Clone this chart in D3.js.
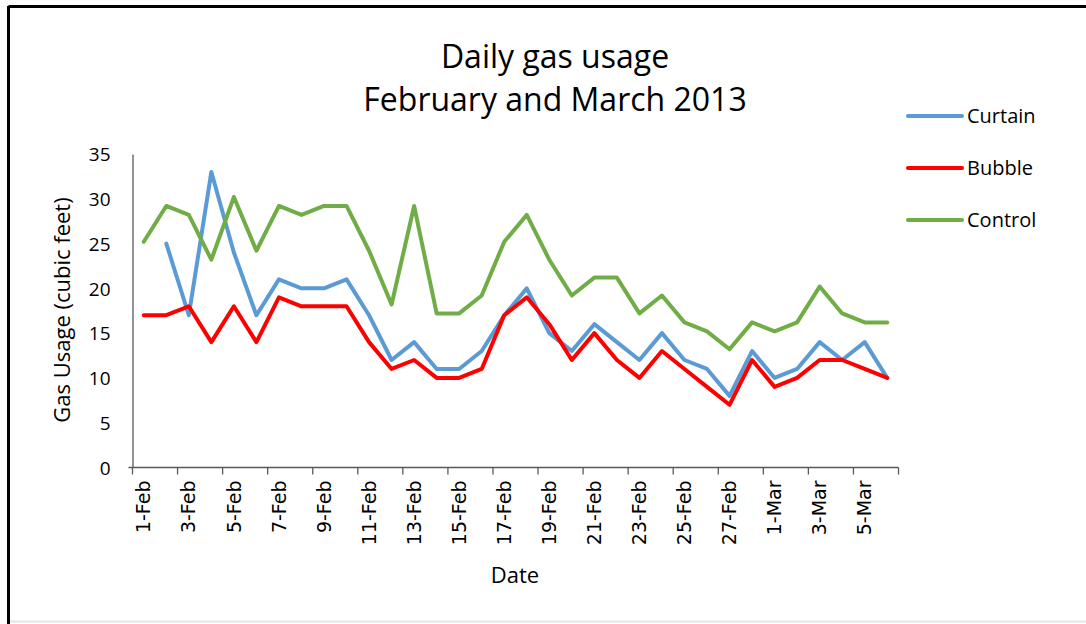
<!DOCTYPE html>
<html>
<head>
<meta charset="utf-8">
<script src="https://cdn.jsdelivr.net/npm/d3@7"></script>
<style>
  body { margin: 0; background: #fff; }
  svg text { font-family: "Open Sans", sans-serif; fill: #000; }
</style>
</head>
<body>
<svg id="chart" width="1086" height="624"></svg>
<script>
// data
const dates = ["1-Feb","2-Feb","3-Feb","4-Feb","5-Feb","6-Feb","7-Feb","8-Feb","9-Feb","10-Feb",
  "11-Feb","12-Feb","13-Feb","14-Feb","15-Feb","16-Feb","17-Feb","18-Feb","19-Feb","20-Feb",
  "21-Feb","22-Feb","23-Feb","24-Feb","25-Feb","26-Feb","27-Feb","28-Feb","1-Mar","2-Mar",
  "3-Mar","4-Mar","5-Mar","6-Mar"];
const curtain = [null,25,17,33,24,17,21,20,20,21,17,12,14,11,11,13,17,20,15,13,16,14,12,15,12,11,8,13,10,11,14,12,14,10];
const bubble = [17,17,18,14,18,14,19,18,18,18,14,11,12,10,10,11,17,19,16,12,15,12,10,13,11,9,7,12,9,10,12,12,11,10];
const control = [25.2,29.2,28.2,23.2,30.2,24.2,29.2,28.2,29.2,29.2,24.2,18.2,29.2,17.2,17.2,19.2,25.2,28.2,23.2,19.2,21.2,21.2,17.2,19.2,16.2,15.2,13.2,16.2,15.2,16.2,20.2,17.2,16.2,16.2];
const yTicks = [0,5,10,15,20,25,30,35];

const series = [
  {name: "Curtain", values: curtain, color: "#5B9BD5"},
  {name: "Bubble", values: bubble, color: "#FF0000"},
  {name: "Control", values: control, color: "#70AD47"}
];

const svg = d3.select("#chart");

// outer frame (like the cropped screenshot)
svg.append("rect").attr("x", 0).attr("y", 0).attr("width", 1086).attr("height", 624).attr("fill", "#fff");
svg.append("line").attr("x1", 8.5).attr("x2", 1086).attr("y1", 6.5).attr("y2", 6.5)
  .attr("stroke", "#000").attr("stroke-width", 3);
svg.append("line").attr("x1", 8.5).attr("x2", 8.5).attr("y1", 6).attr("y2", 624)
  .attr("stroke", "#000").attr("stroke-width", 3);
svg.append("line").attr("x1", 10).attr("x2", 1086).attr("y1", 621.5).attr("y2", 621.5)
  .attr("stroke", "#e6e6e6").attr("stroke-width", 2);

const plotL = 132.5, plotR = 898.5, plotT = 154, plotB = 467.5;

const x = d3.scaleBand().domain(dates).range([plotL, plotR]).padding(0);
const y = d3.scaleLinear().domain([0, 35]).range([plotB, plotT]);

// y axis
const yAxis = svg.append("g")
  .attr("transform", `translate(${plotL},0)`)
  .call(d3.axisLeft(y).tickValues(yTicks).tickSize(0).tickPadding(22));
yAxis.select(".domain").attr("stroke", "#595959").attr("stroke-width", 1.3);
yAxis.selectAll("text").style("font-size", "19px").attr("dy", "0.35em");

// x axis: ticks every other category boundary, labels every other category
const xg = svg.append("g");
xg.append("line").attr("x1", plotL - 4).attr("x2", plotR).attr("y1", plotB).attr("y2", plotB)
  .attr("stroke", "#595959").attr("stroke-width", 1.3);
const tickPos = dates.filter((d, i) => i % 2 === 0).map(d => x(d)).concat([plotR]);
xg.selectAll(".tk").data(tickPos).enter().append("line")
  .attr("x1", d => d).attr("x2", d => d).attr("y1", plotB).attr("y2", plotB + 7)
  .attr("stroke", "#595959").attr("stroke-width", 1.3);
xg.selectAll(".lbl").data(dates.filter((d, i) => i % 2 === 0)).enter().append("text")
  .attr("transform", d => `translate(${x(d) + x.bandwidth() / 2},${plotB + 13}) rotate(-90)`)
  .attr("dy", "0.35em")
  .attr("text-anchor", "end")
  .style("font-family", "'DejaVu Sans', sans-serif")
  .style("font-size", "19px")
  .text(d => d);

// lines
const line = d3.line()
  .defined(d => d.v !== null)
  .x(d => x(d.date) + x.bandwidth() / 2)
  .y(d => y(d.v));

series.forEach(s => {
  svg.append("path")
    .datum(dates.map((d, i) => ({date: d, v: s.values[i]})))
    .attr("d", line)
    .attr("fill", "none")
    .attr("stroke", s.color)
    .attr("stroke-width", 4)
    .attr("stroke-linejoin", "round")
    .attr("stroke-linecap", "round");
});

// titles
svg.append("text").attr("x", 555).attr("y", 68).attr("text-anchor", "middle")
  .style("font-size", "32px").text("Daily gas usage");
svg.append("text").attr("x", 555).attr("y", 111).attr("text-anchor", "middle")
  .style("font-size", "32px").text("February and March 2013");

svg.append("text").attr("transform", "translate(70,310) rotate(-90)")
  .attr("text-anchor", "middle").style("font-size", "22px").text("Gas Usage (cubic feet)");
svg.append("text").attr("x", 515).attr("y", 583).attr("text-anchor", "middle")
  .style("font-size", "22px").text("Date");

// legend
const legend = svg.selectAll(".leg").data(series).enter().append("g")
  .attr("transform", (d, i) => `translate(908,${116 + i * 52})`);
legend.append("line").attr("x1", 0).attr("x2", 54).attr("y1", 0).attr("y2", 0)
  .attr("stroke", d => d.color).attr("stroke-width", 4).attr("stroke-linecap", "round");
legend.append("text").attr("x", 59).attr("dy", "0.35em").style("font-size", "20px").text(d => d.name);
</script>
</body>
</html>
